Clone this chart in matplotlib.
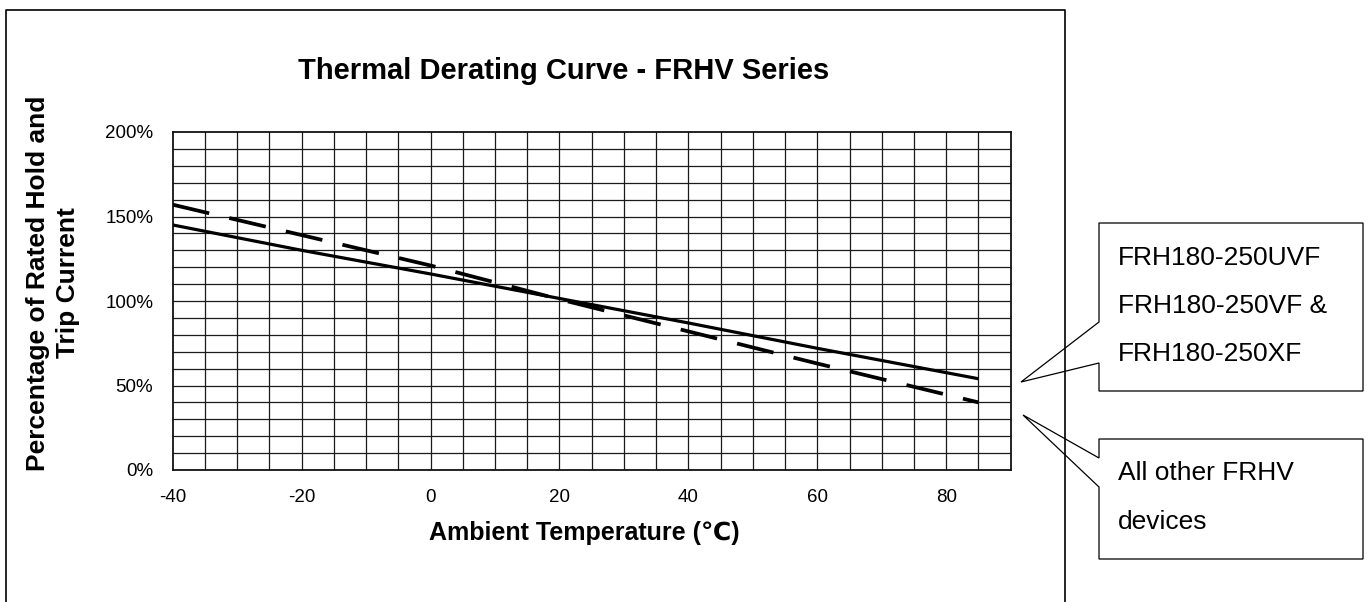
import matplotlib
matplotlib.use("Agg")
import matplotlib.pyplot as plt
from matplotlib.patches import Polygon

plt.rcParams['font.family'] = ['Liberation Sans', 'DejaVu Sans']

# Data
temps = [-40, -20, 0, 20, 40, 60, 85]
special_devices = [145, 130, 116, 101.5, 87, 72, 54]   # solid line
other_devices = [157, 139, 121, 101, 82, 63, 40]        # dashed line
x_ticks = [-40, -20, 0, 20, 40, 60, 80]
y_ticks = [0, 50, 100, 150, 200]
y_tick_labels = ["0%", "50%", "100%", "150%", "200%"]
title = "Thermal Derating Curve - FRHV Series"
x_label = "Ambient Temperature (\u2103)"
y_label = "Percentage of Rated Hold and\nTrip Current"
callout1 = ["FRH180-250UVF", "FRH180-250VF &", "FRH180-250XF"]
callout2 = ["All other FRHV", "devices"]

W, H = 1369, 602
fig = plt.figure(figsize=(W / 100, H / 100), dpi=100)

L, R, T, B = 172.7, 1010.7, 132, 470
ax = fig.add_axes([L / W, (H - B) / H, (R - L) / W, (B - T) / H])
ax.set_xlim(-40, 90)
ax.set_ylim(0, 200)

# grid
for gx in range(-35, 90, 5):
    ax.axvline(gx, color='#1a1a1a', lw=0.9, zorder=1)
for gy in range(10, 200, 10):
    ax.axhline(gy, color='#1a1a1a', lw=0.9, zorder=1)
for s in ax.spines.values():
    s.set_linewidth(1.3)
    s.set_color('#111111')

ax.plot(temps, special_devices, color='black', lw=2.3, solid_capstyle='butt', zorder=3)
ax.plot(temps, other_devices, color='black', lw=2.7, dashes=(10, 5.5),
        dash_capstyle='butt', zorder=3)

ax.set_xticks(x_ticks)
ax.set_xticklabels([str(v) for v in x_ticks])
ax.set_yticks(y_ticks)
ax.set_yticklabels(y_tick_labels)
ax.tick_params(axis='x', length=0, pad=14, labelsize=13.5)
ax.tick_params(axis='y', length=0, pad=14, labelsize=13.5)

# overlay in pixel coordinates
ov = fig.add_axes([0, 0, 1, 1], facecolor='none')
ov.set_xlim(0, W)
ov.set_ylim(H, 0)
ov.axis('off')

# outer frame
ov.plot([6, 6, 1065, 1065], [610, 10, 10, 610], color='black', lw=1.2, clip_on=False)

ov.text(564, 71, title, ha='center', va='center', fontsize=21, fontweight='bold')
ov.text(584, 533, x_label, ha='center', va='center', fontsize=18, fontweight='bold')
ov.text(53, 283, y_label, ha='center', va='center', rotation=90, fontsize=19,
        fontweight='bold', linespacing=1.3, multialignment='center')

# callouts
poly1 = [(1099, 223), (1363, 223), (1363, 391), (1099, 391), (1099, 363),
         (1021, 382), (1099, 322)]
poly2 = [(1099, 439), (1363, 439), (1363, 559), (1099, 559), (1099, 487),
         (1023, 415), (1099, 458)]
for p in (poly1, poly2):
    ov.add_patch(Polygon(p, closed=True, facecolor='white', edgecolor='black', lw=0.9))

for i, t in enumerate(callout1):
    ov.text(1118, 258 + 48 * i, t, ha='left', va='center', fontsize=19)
for i, t in enumerate(callout2):
    ov.text(1118, 473 + 49 * i, t, ha='left', va='center', fontsize=19)

fig.savefig("out.png", dpi=100)
